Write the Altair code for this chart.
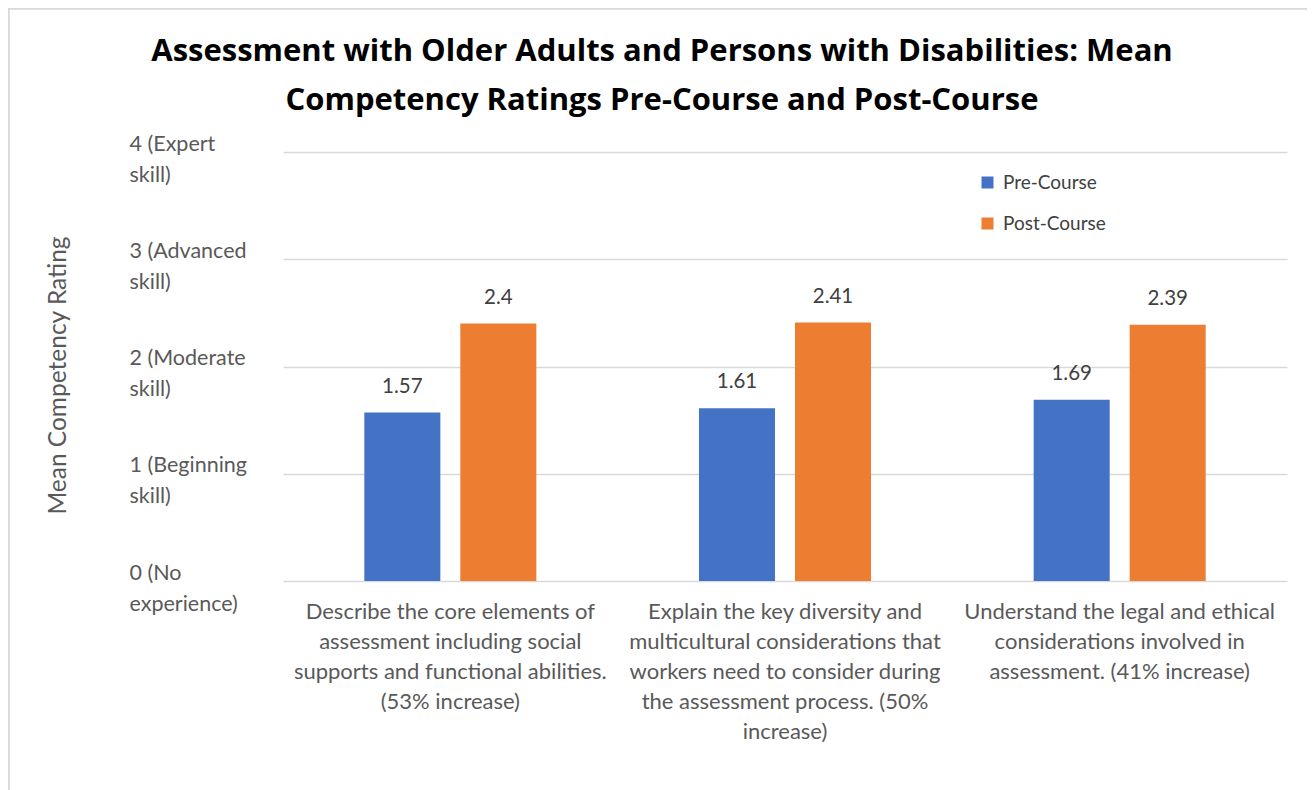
import altair as alt
import pandas as pd

# ---- data ----
categories = [
    "Describe the core elements of|assessment including social|supports and functional abilities.|(53% increase)",
    "Explain the key diversity and|multicultural considerations that|workers need to consider during|the assessment process. (50%|increase)",
    "Understand the legal and ethical|considerations involved in|assessment. (41% increase)",
]
series = ["Pre-Course", "Post-Course"]
pre_values = [1.57, 1.61, 1.69]
post_values = [2.40, 2.41, 2.39]
y_tick_values = [0, 1, 2, 3, 4]
y_tick_labels = [
    ["0 (No", "experience)"],
    ["1 (Beginning", "skill)"],
    ["2 (Moderate", "skill)"],
    ["3 (Advanced", "skill)"],
    ["4 (Expert", "skill)"],
]
title_lines = [
    "Assessment with Older Adults and Persons with Disabilities: Mean",
    "Competency Ratings Pre-Course and Post-Course",
]
colors = ["#4472C4", "#ED7D31"]

rows = []
for c, p, q in zip(categories, pre_values, post_values):
    rows.append({"category": c, "series": series[0], "value": p})
    rows.append({"category": c, "series": series[1], "value": q})
df = pd.DataFrame(rows)

FONT = "Lato"
PAD_L, PAD_T, PAD_R, PAD_B = 275, 144, 20, 209
W, H = 1004, 429

ylabel_expr = "[" + ",".join(
    "[" + ",".join("'" + s + "'" for s in lab) + "]" for lab in y_tick_labels
) + "][datum.value]"

x_enc = alt.X(
    "category:N",
    sort=categories,
    scale=alt.Scale(paddingInner=0, paddingOuter=0),
    axis=alt.Axis(
        title=None,
        labelExpr="split(datum.label, '|')",
        labelAngle=0,
        labelFont=FONT,
        labelFontSize=22,
        labelColor="#595959",
        labelLineHeight=30,
        labelBaseline="top",
        labelPadding=20,
        labelLimit=500,
        ticks=False,
        domain=False,
        grid=False,
    ),
)
xoff_enc = alt.XOffset(
    "series:N",
    sort=series,
    scale=alt.Scale(paddingInner=0.208, paddingOuter=0.847),
)
y_enc = alt.Y(
    "value:Q",
    scale=alt.Scale(domain=[0, 4], nice=False),
    axis=alt.Axis(
        title="Mean Competency Rating",
        titleFont=FONT,
        titleFontSize=24.5,
        titleFontWeight="normal",
        titleColor="#595959",
        titleX=-225,
        titleY=223,
        titleAngle=-90,
        titleAlign="center",
        titleBaseline="middle",
        values=y_tick_values,
        labelExpr=ylabel_expr,
        labelFont=FONT,
        labelFontSize=21.5,
        labelColor="#595959",
        labelLineHeight=31,
        labelAlign="left",
        labelBaseline="middle",
        labelPadding=154,
        labelOffset=-8,
        labelLimit=300,
        ticks=False,
        domain=False,
        grid=True,
        gridColor="#D9D9D9",
        gridWidth=1.3,
    ),
)

bars = alt.Chart(df).mark_bar().encode(
    x=x_enc,
    xOffset=xoff_enc,
    y=y_enc,
    color=alt.Color(
        "series:N",
        sort=series,
        scale=alt.Scale(domain=series, range=colors),
        legend=alt.Legend(
            title=None,
            orient="none",
            legendX=695,
            legendY=21,
            symbolType="square",
            symbolSize=144,
            symbolStrokeWidth=0,
            labelFont=FONT,
            labelFontSize=19,
            labelColor="#404040",
            labelOffset=6,
            rowPadding=21,
        ),
    ),
)

labels = alt.Chart(df).mark_text(
    dy=-26, baseline="middle", font=FONT, fontSize=20.5, color="#404040"
).encode(
    x=alt.X("category:N", sort=categories),
    xOffset=alt.XOffset("series:N", sort=series),
    y="value:Q",
    text=alt.Text("value:Q", format="~g"),
)

border_top = alt.Chart(df).mark_rule(color="#D9D9D9", strokeWidth=1.5).encode(
    x=alt.value(-PAD_L), x2=alt.value(W + PAD_R + 10), y=alt.value(-PAD_T + 0.5)
)
border_left = alt.Chart(df).mark_rule(color="#D9D9D9", strokeWidth=1.5).encode(
    x=alt.value(-PAD_L + 0.5), y=alt.value(-PAD_T), y2=alt.value(H + PAD_B + 10)
)

chart = (
    alt.layer(border_top, border_left, bars, labels)
    .properties(
        width=W,
        height=H,
        background="white",
        autosize=alt.AutoSizeParams(type="none"),
        padding={"left": PAD_L, "top": PAD_T, "right": PAD_R, "bottom": PAD_B},
        title=alt.TitleParams(
            text=title_lines,
            font="Open Sans",
            fontSize=31,
            fontWeight="bold",
            color="#000000",
            anchor="middle",
            dx=-123,
            dy=110,
            offset=0,
            lineHeight=49,
        ),
    )
    .configure_view(stroke="transparent", strokeWidth=0)
)

chart.save("out.html", embed_options={"renderer": "svg", "actions": False})
